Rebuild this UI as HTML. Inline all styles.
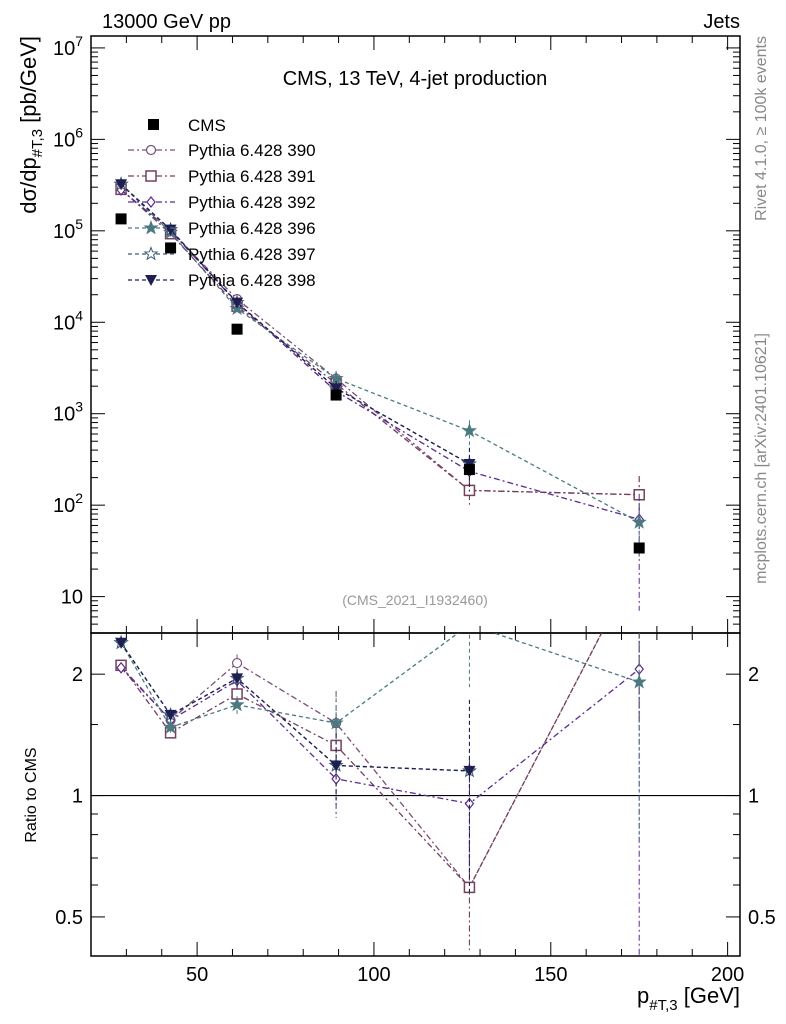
<!DOCTYPE html>
<html><head><meta charset="utf-8"><style>
body{margin:0;background:#fff}
svg{display:block;font-family:"Liberation Sans",sans-serif}
</style></head><body>
<svg id="c" width="786" height="1024"></svg>
<script>
const xVals=[28.5,42.5,61.3,89.3,127,175];
const cmsVals=[1.35e5,6.5e4,8.4e3,1.6e3,245,34];
const seriesNames=["Pythia 6.428 390","Pythia 6.428 391","Pythia 6.428 392","Pythia 6.428 396","Pythia 6.428 397","Pythia 6.428 398"];
const s390=[2.82e5,1.0e5,1.79e4,2.42e3,145,130];
const s391=[2.84e5,9.3e4,1.5e4,2.13e3,145,130];
const s392=[2.8e5,1.0e5,1.62e4,1.76e3,234,70];
const s396=[3.23e5,9.6e4,1.41e4,2.42e3,650,65];
const s397=[3.23e5,1.03e5,1.64e4,1.9e3,282,null];
const s398=[3.23e5,1.03e5,1.64e4,1.9e3,282,null];
const relErr390=[0.03,0.03,0.05,0.2,0.3,0.6];
const relErr392=[0.03,0.03,0.05,0.2,0.3,0.9];
const relErr398=[0.03,0.03,0.05,0.2,0.5,0.6];
const yTicksMain=[10,100,1000,1e4,1e5,1e6,1e7];
const yTickLabelsMain=["10","10²","10³","10⁴","10⁵","10⁶","10⁷"];
const xTicks=[50,100,150,200];
const ratioTicks=[0.5,1,2];
const colors=["#7b4d7b","#74405c","#5a2a90","#4a7a80","#3a5a78","#1e1e50"];
const dashes=["6,3,2,3","6,3,2,3","6,3,2,3","4,3","4,3","4,3"];
const markers=["circle","square","diamond","star","ostar","tri"];
const allSeries=[s390,s391,s392,s396,s397,s398];
const errs=[relErr390,relErr390,relErr392,relErr390,relErr398,relErr398];

const NS="http://www.w3.org/2000/svg";
const svg=document.getElementById('c');
const L=91,R=740,T=36,M=633,B=956;
const X=v=>L+(v-20)/(203.5-20)*(R-L);
const Y=v=>T+(Math.log10(1.35e7)-Math.log10(v))/(Math.log10(1.35e7)-Math.log10(4))*(M-T);
const YR=v=>M+(Math.log2(2.53)-Math.log2(v))/(Math.log2(2.53)-Math.log2(0.4))*(B-M);
function el(t,a,p){const e=document.createElementNS(NS,t);for(const k in a)e.setAttribute(k,a[k]);(p||svg).appendChild(e);return e;}
function txt(s,a,p){const e=el('text',a,p);e.textContent=s;return e;}
const clipU=el('clipPath',{id:'cu'});el('rect',{x:L,y:T,width:R-L,height:M-T},clipU);
const clipL=el('clipPath',{id:'cl'});el('rect',{x:L,y:M,width:R-L,height:B-M},clipL);

let f=el('rect',{x:L,y:T,width:R-L,height:M-T,fill:'none',stroke:'#000','stroke-width':1.5});

f=el('rect',{x:L,y:M,width:R-L,height:B-M,fill:'none',stroke:'#000','stroke-width':1.5});


for(let d=1;d<=7;d++){for(let m=1;m<10;m++){const vv=m*Math.pow(10,d);if(vv<4||vv>1.35e7)continue;const y=Y(vv);const len=m==1?14:7;
el('line',{x1:L,x2:L+len,y1:y,y2:y,stroke:'#000'});el('line',{x1:R,x2:R-len,y1:y,y2:y,stroke:'#000'});}}
for(let m=4;m<10;m++){const y=Y(m);el('line',{x1:L,x2:L+7,y1:y,y2:y,stroke:'#000'});el('line',{x1:R,x2:R-7,y1:y,y2:y,stroke:'#000'});}
yTicksMain.forEach((v,i)=>{const t=txt(yTickLabelsMain[i].replace(/[²³⁴⁵⁶⁷]/,''),{x:L-8,y:Y(v)+7,'font-size':20,'text-anchor':'end'});

if(i>0){const s=el('tspan',{'font-size':14,dy:-9},t);s.textContent=String(i+1);}});
for(let v=30;v<=200;v+=10){const x=X(v);const big=v%50==0;const len=big?14:7;
[M,B].forEach(y0=>{el('line',{x1:x,x2:x,y1:y0,y2:y0-len,stroke:'#000'});});el('line',{x1:x,x2:x,y1:T,y2:T+len,stroke:'#000'});el('line',{x1:x,x2:x,y1:M,y2:M+len,stroke:'#000'});}
xTicks.forEach(v=>{const t=txt(String(v),{x:X(v),y:981,'font-size':20,'text-anchor':'middle'});});
[0.4,0.5,0.6,0.7,0.8,0.9,1,1.5,2].forEach(v=>{const y=YR(v);const len=(v==0.5||v==1||v==2)?14:7;el('line',{x1:L,x2:L+len,y1:y,y2:y,stroke:'#000'});el('line',{x1:R,x2:R-len,y1:y,y2:y,stroke:'#000'});});
ratioTicks.forEach(v=>{let t=txt(String(v),{x:L-8,y:YR(v)+7,'font-size':20,'text-anchor':'end'});
t=txt(String(v),{x:R+8,y:YR(v)+7,'font-size':20});});
el('line',{x1:L,x2:R,y1:YR(1),y2:YR(1),stroke:'#000','stroke-width':1.2});

function marker(type,x,y,c,g){
 if(type=='circle')return el('circle',{cx:x,cy:y,r:4.5,fill:'#fff',stroke:c,'stroke-width':1.2},g);
 if(type=='square')return el('rect',{x:x-5,y:y-5,width:10,height:10,fill:'#fff',stroke:c,'stroke-width':1.5},g);
 if(type=='diamond')return el('polygon',{points:`${x},${y-5} ${x+4},${y} ${x},${y+5} ${x-4},${y}`,fill:'#fff',stroke:c,'stroke-width':1.2},g);
 if(type=='tri')return el('polygon',{points:`${x-6},${y-5} ${x+6},${y-5} ${x},${y+6}`,fill:c},g);
 let p='';for(let i=0;i<10;i++){const r=i%2?2.7:6.5;const a=-Math.PI/2+i*Math.PI/5;p+=(x+r*Math.cos(a))+','+(y+r*Math.sin(a))+' ';}
 return el('polygon',{points:p,fill:type=='star'?c:'#fff',stroke:c,'stroke-width':1},g);
}
allSeries.forEach((s,k)=>{
 const gU=el('g',{'clip-path':'url(#cu)'});
 const gL=el('g',{'clip-path':'url(#cl)'});
 let pu='',pl='';
 s.forEach((v,i)=>{if(v==null)return;const x=X(xVals[i]);pu+=(pu?'L':'M')+x+','+Y(v);pl+=(pl?'L':'M')+x+','+YR(v/cmsVals[i]);});
 el('path',{d:pu,fill:'none',stroke:colors[k],'stroke-width':1.3,'stroke-dasharray':dashes[k]},gU);
 el('path',{d:pl,fill:'none',stroke:colors[k],'stroke-width':1.3,'stroke-dasharray':dashes[k]},gL);
 s.forEach((v,i)=>{if(v==null)return;const x=X(xVals[i]);const e=errs[k][i];
  el('line',{x1:x,x2:x,y1:Y(v*(1+e)),y2:Y(Math.max(v*(1-e),1)),stroke:colors[k],'stroke-dasharray':dashes[k]},gU);
  const r=v/cmsVals[i];el('line',{x1:x,x2:x,y1:YR(r*(1+e)),y2:YR(Math.max(r*(1-e),0.01)),stroke:colors[k],'stroke-dasharray':dashes[k]},gL);
  marker(markers[k],x,Y(v),colors[k],gU);marker(markers[k],x,YR(r),colors[k],gL);});
});
const gC=el('g',{'clip-path':'url(#cu)'});
cmsVals.forEach((v,i)=>{el('rect',{x:X(xVals[i])-5.5,y:Y(v)-5.5,width:11,height:11,fill:'#000'},gC);});

const lg=el('g',{});
el('rect',{x:148,y:119,width:11,height:11,fill:'#000'},lg);txt('CMS',{x:188,y:131,'font-size':17},lg);
seriesNames.forEach((n,k)=>{const y=150+k*26;
 el('line',{x1:128,x2:175,y1:y,y2:y,stroke:colors[k],'stroke-width':1.3,'stroke-dasharray':dashes[k]},lg);
 marker(markers[k],151,y,colors[k],lg);txt(n,{x:188,y:y+6,'font-size':17},lg);});

let t;
t=txt('13000 GeV pp',{x:102,y:28,'font-size':20});
t=txt('Jets',{x:740,y:28,'font-size':20,'text-anchor':'end'});
t=txt('CMS, 13 TeV, 4-jet production',{x:415,y:85,'font-size':20,'text-anchor':'middle'});
t=txt('(CMS_2021_I1932460)',{x:415,y:605,'font-size':14,'text-anchor':'middle',fill:'#999'});
t=txt('Rivet 4.1.0, ≥ 100k events',{x:0,y:0,'font-size':16,fill:'#888','text-anchor':'end',transform:'translate(766,36) rotate(-90)'});
t=txt('mcplots.cern.ch [arXiv:2401.10621]',{x:0,y:0,'font-size':16,fill:'#888','text-anchor':'end',transform:'translate(766,333) rotate(-90)'});
t=txt('',{x:0,y:0,'font-size':22,'text-anchor':'end',transform:'translate(36,36) rotate(-90)'});
const a1=el('tspan',{},t);a1.textContent='dσ/dp';const a2=el('tspan',{'font-size':15,dy:6},t);a2.textContent='#T,3';const a3=el('tspan',{dy:-6},t);a3.textContent=' [pb/GeV]';
t=txt('Ratio to CMS',{x:0,y:0,'font-size':16,'text-anchor':'middle',transform:'translate(36,795) rotate(-90)'});
t=txt('',{x:740,y:1003,'font-size':22,'text-anchor':'end'});
const b1=el('tspan',{},t);b1.textContent='p';const b2=el('tspan',{'font-size':15,dy:7},t);b2.textContent='#T,3';const b3=el('tspan',{dy:-7},t);b3.textContent=' [GeV]';
</script>
</body></html>
